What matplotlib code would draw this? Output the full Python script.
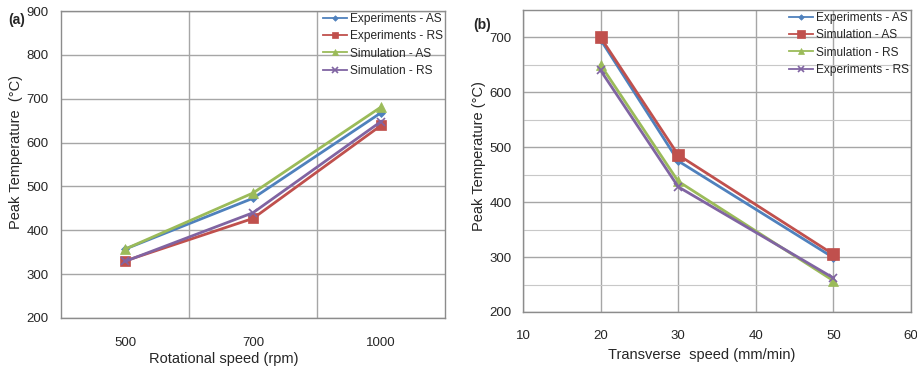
import numpy as np
import matplotlib
matplotlib.use("Agg")
import matplotlib.pyplot as plt
from matplotlib.ticker import MultipleLocator

plt.rcParams["font.family"] = ["Liberation Sans", "DejaVu Sans"]

# ---------- Dados (a) ----------
rot_speed = ["500", "700", "1000"]
exp_as_a = [357, 473, 668]
exp_rs_a = [330, 427, 639]
sim_as_a = [357, 485, 681]
sim_rs_a = [329, 440, 648]

# ---------- Dados (b) ----------
trans_speed = [20, 30, 50]
exp_as_b = [696, 475, 299]
sim_as_b = [700, 486, 305]
sim_rs_b = [650, 438, 257]
exp_rs_b = [640, 428, 262]

blue = "#4F81BD"
red = "#C0504D"
green = "#9BBB59"
purple = "#8064A2"
grid_c = "#A6A6A6"
txt_c = "#262626"

fig = plt.figure(figsize=(9.17, 3.67), dpi=100)

def style_axes(ax):
    for s in ax.spines.values():
        s.set_color("#8C8C8C")
        s.set_linewidth(1.0)
    ax.tick_params(length=0, labelsize=9.5, colors=txt_c)
    ax.set_axisbelow(True)

def draw(ax, x, ys, labels, colors, markers, sizes):
    for y, lab, c, m, ms in zip(ys, labels, colors, markers, sizes):
        ax.plot(x, y, color=c, marker=m, markersize=ms, lw=2.0, label=lab,
                markeredgewidth=1.2 if m == "x" else 0.5, markeredgecolor=c)

def add_legend(ax):
    leg = ax.legend(loc="upper right", frameon=False, fontsize=8.6,
                    handlelength=2.0, handletextpad=0.25, labelspacing=0.45,
                    borderaxespad=0.0, borderpad=0.15, markerscale=0.7,
                    labelcolor=txt_c)
    for line in leg.get_lines():
        line.set_linewidth(1.3)
    return leg

# ---------- Gráfico (a) ----------
ax1 = fig.add_axes([61 / 917, 1 - 318 / 367, 384 / 917, 307 / 367])
xa = np.arange(len(rot_speed))
draw(ax1, xa, [exp_as_a, exp_rs_a, sim_as_a, sim_rs_a],
     ["Experiments - AS", "Experiments - RS", "Simulation - AS", "Simulation - RS"],
     [blue, red, green, purple], ["D", "s", "^", "x"], [4, 7, 7, 6])
ax1.set_xlim(-0.5, 2.5)
ax1.set_ylim(200, 900)
ax1.set_xticks(xa)
ax1.set_xticklabels(rot_speed)
ax1.set_xticks([0.5, 1.5], minor=True)
ax1.yaxis.set_major_locator(MultipleLocator(100))
ax1.grid(True, which="major", axis="y", color=grid_c, lw=1.0)
ax1.grid(True, which="minor", axis="x", color=grid_c, lw=1.0)
ax1.tick_params(which="minor", length=0)
style_axes(ax1)
ax1.tick_params(axis="y", pad=9)
ax1.tick_params(axis="x", pad=14)
ax1.set_xlabel("Rotational speed (rpm)", fontsize=10.5, color=txt_c)
ax1.xaxis.set_label_coords((224 - 61) / 384, -(352 - 318) / 307)
ax1.set_ylabel("Peak Temperature  (°C)", fontsize=10.5, color=txt_c)
ax1.yaxis.set_label_coords((23 - 61) / 384, (318 - 152) / 307)
add_legend(ax1)
fig.text(8 / 917, 1 - 20 / 367, "(a)", fontsize=10, fontweight="bold",
         va="center", ha="left", color=txt_c)

# ---------- Gráfico (b) ----------
ax2 = fig.add_axes([523 / 917, 1 - 312 / 367, 388 / 917, 302 / 367])
draw(ax2, trans_speed, [exp_as_b, sim_as_b, sim_rs_b, exp_rs_b],
     ["Experiments - AS", "Simulation - AS", "Simulation - RS", "Experiments - RS"],
     [blue, red, green, purple], ["D", "s", "^", "x"], [4, 8, 7, 6])
ax2.set_xlim(10, 60)
ax2.set_ylim(200, 750)
ax2.xaxis.set_major_locator(MultipleLocator(10))
ax2.yaxis.set_major_locator(MultipleLocator(100))
ax2.yaxis.set_minor_locator(MultipleLocator(50))
ax2.grid(True, which="major", color=grid_c, lw=1.0)
ax2.grid(True, which="minor", axis="y", color="#C8C8C8", lw=0.8)
ax2.tick_params(which="minor", length=0)
style_axes(ax2)
ax2.tick_params(axis="y", pad=8)
ax2.tick_params(axis="x", pad=13)
ax2.set_xlabel("Transverse  speed (mm/min)", fontsize=10.5, color=txt_c)
ax2.xaxis.set_label_coords((702 - 523) / 388, -(348 - 312) / 302)
ax2.set_ylabel("Peak Temperature (°C)", fontsize=10.5, color=txt_c)
ax2.yaxis.set_label_coords((486 - 523) / 388, (312 - 156) / 302)
add_legend(ax2)
fig.text(473 / 917, 1 - 25 / 367, "(b)", fontsize=10, fontweight="bold",
         va="center", ha="left", color=txt_c)

fig.savefig("out.png", dpi=100)
